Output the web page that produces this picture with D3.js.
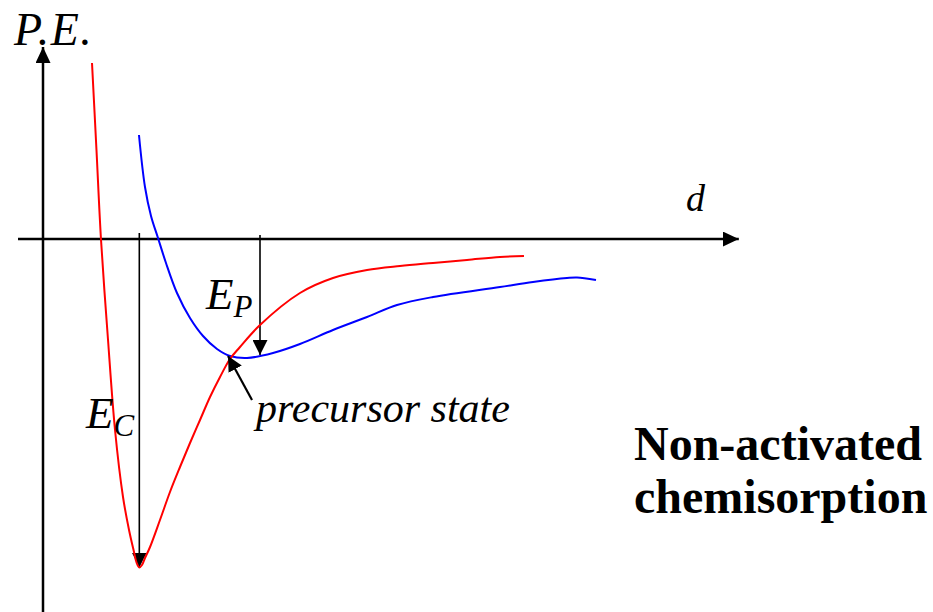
<!DOCTYPE html>
<html>
<head>
<meta charset="utf-8">
<script src="https://cdn.jsdelivr.net/npm/d3@7"></script>
<style>
  body { margin: 0; background: #fff; }
  svg { display: block; }
</style>
</head>
<body>
<div id="chart"></div>
<script>
// distance (arbitrary units) and potential energy
const chemDist = [7.0, 7.64, 8.29, 9.29, 10.29, 11.43, 12.29, 13.0, 13.36, 13.76, 14.14, 14.57, 15.29, 16.71, 18.14, 19.57, 21.0, 22.43, 23.86, 25.29, 26.71, 28.14, 31.0, 36.71, 41.43, 46.29, 51.0, 55.71, 60.57, 65.29, 68.71];
const chemPE   = [35.2, 17.8, -0.2, -20.2, -38.2, -51.6, -58.2, -62.6, -64.7, -65.7, -65.2, -63.8, -61.6, -56.2, -50.6, -45.6, -40.8, -36.2, -31.6, -27.6, -24.0, -21.6, -17.2, -10.8, -7.8, -6.2, -5.4, -4.8, -4.2, -3.6, -3.4];

const physDist = [13.71, 14.57, 15.43, 16.43, 17.57, 19.14, 21.0, 22.86, 24.86, 26.71, 29.14, 32.86, 36.71, 41.43, 46.29, 50.57, 55.71, 65.29, 70.0, 74.86, 76.29, 79.0];
const physPE   = [20.8, 10.4, 4.6, 0.2, -4.8, -10.8, -15.8, -19.4, -22.0, -23.4, -23.8, -22.8, -21.0, -18.2, -15.6, -13.2, -11.6, -9.6, -8.6, -7.8, -7.7, -8.2];

// well depths marked by arrows: [distance, top, bottom]
const wellEC = [13.76, 1.2, -65.7];
const wellEP = [31.0, 0.8, -23.2];
// precursor state pointer: from label to crossing point
const precursor = [[29.86, -32.2], [26.43, -23.4]];

const width = 933;
const height = 612;
const serif = "'Liberation Serif'";

const xScale = d3.scaleLinear()
  .domain([0, 100])
  .range([43, 743]);

const yScale = d3.scaleLinear()
  .domain([-75, 45])
  .range([614, 14]);

const svg = d3.select('#chart')
  .append('svg')
    .attr('width', width)
    .attr('height', height);

// arrow heads
const defs = svg.append('defs');
const addHead = (id, len, wid) => {
  defs.append('marker')
    .attr('id', id)
    .attr('markerUnits', 'userSpaceOnUse')
    .attr('viewBox', `0 ${-wid / 2} ${len} ${wid}`)
    .attr('refX', len)
    .attr('refY', 0)
    .attr('markerWidth', len)
    .attr('markerHeight', wid)
    .attr('orient', 'auto')
    .append('path')
      .attr('d', `M0,${-wid / 2}L${len},0L0,${wid / 2}Z`)
      .attr('fill', '#000');
};
addHead('head-axis', 16, 15);
addHead('head-well', 15, 15);

// axes
svg.append('line')
  .attr('x1', xScale(-3.57)).attr('y1', yScale(0))
  .attr('x2', xScale(99.4)).attr('y2', yScale(0))
  .attr('stroke', '#000').attr('stroke-width', 2.5)
  .attr('marker-end', 'url(#head-axis)');

svg.append('line')
  .attr('x1', xScale(0)).attr('y1', yScale(-75))
  .attr('x2', xScale(0)).attr('y2', yScale(38.4))
  .attr('stroke', '#000').attr('stroke-width', 2.5)
  .attr('marker-end', 'url(#head-axis)');

// well depth arrows
[wellEC, wellEP].forEach(w => {
  svg.append('line')
    .attr('x1', xScale(w[0])).attr('y1', yScale(w[1]))
    .attr('x2', xScale(w[0])).attr('y2', yScale(w[2]))
    .attr('stroke', '#000').attr('stroke-width', 1.6)
    .attr('marker-end', 'url(#head-well)');
});

const line = d3.line()
  .x(d => xScale(d[0]))
  .y(d => yScale(d[1]))
  .curve(d3.curveCatmullRom.alpha(0.5));

svg.append('path')
  .attr('d', line(d3.zip(physDist, physPE)))
  .attr('fill', 'none')
  .attr('stroke', '#0000ff')
  .attr('stroke-width', 2);

svg.append('path')
  .attr('d', line(d3.zip(chemDist, chemPE)))
  .attr('fill', 'none')
  .attr('stroke', '#ff0000')
  .attr('stroke-width', 2);

// precursor pointer
svg.append('line')
  .attr('x1', xScale(precursor[0][0])).attr('y1', yScale(precursor[0][1]))
  .attr('x2', xScale(precursor[1][0])).attr('y2', yScale(precursor[1][1]))
  .attr('stroke', '#000').attr('stroke-width', 2.2)
  .attr('marker-end', 'url(#head-well)');

// labels
const label = (x, y, size, txt) => svg.append('text')
  .attr('x', x).attr('y', y)
  .style('font-family', serif)
  .attr('font-size', size)
  .attr('fill', '#000')
  .text(txt);

label(14, 45, 46, 'P.E.').attr('font-style', 'italic').attr('letter-spacing', 1.5);
label(686, 211, 38, 'd').attr('font-style', 'italic');

const sub = (x, y, main, s) => {
  const t = label(x, y, 45, null).attr('font-style', 'italic');
  t.append('tspan').text(main);
  t.append('tspan').attr('font-size', 31).attr('dy', 8).text(s);
};
sub(86, 428, 'E', 'C');
sub(206, 309, 'E', 'P');

label(256, 422, 42, 'precursor state').attr('font-style', 'italic');
label(634, 460, 48, 'Non-activated').attr('font-weight', 'bold');
label(634, 513, 48, 'chemisorption').attr('font-weight', 'bold');
</script>
</body>
</html>
